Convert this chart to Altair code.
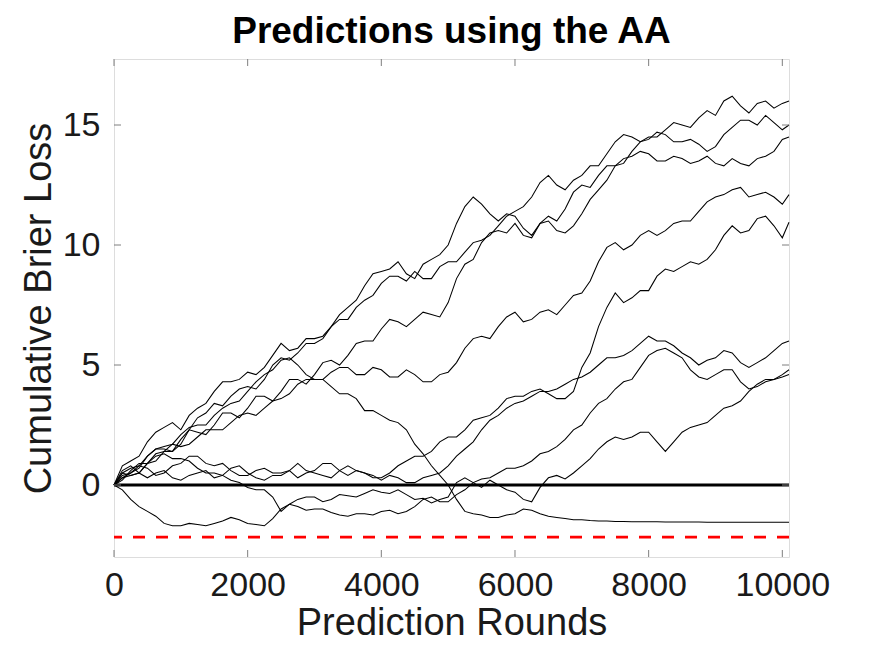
import altair as alt
import pandas as pd

# ---------------- data ----------------
rounds = [0, 125, 250, 375, 500, 625, 750, 875, 1000, 1125, 1250, 1375, 1500, 1625, 1750,
          1875, 2000, 2125, 2250, 2375, 2500, 2625, 2750, 2875, 3000, 3125, 3250, 3375, 3500,
          3625, 3750, 3875, 4000, 4125, 4250, 4375, 4500, 4625, 4750, 4875, 5000, 5125, 5250,
          5375, 5500, 5625, 5750, 5875, 6000, 6125, 6250, 6375, 6500, 6625, 6750, 6875, 7000,
          7125, 7250, 7375, 7500, 7625, 7750, 7875, 8000, 8125, 8250, 8375, 8500, 8625, 8750,
          8875, 9000, 9125, 9250, 9375, 9500, 9625, 9750, 9875, 10000, 10100]

run_a = [0, 0.5, 0.4, 0.5, 0.9, 1.3, 1.4, 1.4, 1.9, 2.3, 2.2, 2.1, 2.5, 3.0, 3.0, 2.8, 3.2,
         3.7, 3.7, 3.5, 3.9, 4.4, 4.4, 4.2, 4.6, 5.1, 5.2, 5.0, 5.4, 5.9, 6.0, 6.0, 6.5, 6.9,
         6.8, 6.6, 6.9, 7.2, 7.1, 7.0, 7.6, 8.6, 9.2, 9.4, 10.1, 10.5, 10.6, 10.5, 10.9, 10.4,
         10.3, 10.9, 11.2, 11.0, 11.5, 12.2, 12.5, 12.4, 12.9, 13.3, 13.3, 13.4, 13.9, 14.3,
         14.5, 14.5, 14.8, 15.1, 15.0, 14.9, 15.3, 15.6, 15.4, 16.0, 16.2, 15.8, 15.5, 15.9,
         16.0, 15.7, 15.9, 16.0]
run_b = [0, 0.4, 0.5, 0.7, 1.2, 1.5, 1.5, 1.4, 1.7, 2.3, 2.8, 3.0, 3.4, 3.3, 3.7, 4.0, 4.1,
         4.0, 4.4, 5.0, 5.3, 5.2, 5.5, 5.9, 5.9, 6.1, 6.6, 6.9, 6.9, 7.4, 7.7, 7.9, 8.4, 8.7,
         8.7, 8.5, 8.9, 8.6, 8.6, 9.1, 9.3, 9.3, 9.7, 10.1, 10.2, 10.4, 10.8, 11.2, 11.4, 11.6,
         12.0, 12.6, 12.9, 12.5, 12.3, 12.7, 12.9, 13.3, 13.3, 13.8, 14.3, 14.6, 14.5, 14.3,
         14.4, 14.7, 14.6, 14.3, 14.3, 14.4, 14.2, 13.9, 14.1, 14.6, 14.9, 15.2, 15.2, 15.0,
         15.4, 15.1, 14.8, 15.0]
run_c = [0, 0.8, 1.0, 1.2, 1.8, 2.2, 2.4, 2.6, 2.3, 2.9, 3.2, 3.4, 3.9, 4.3, 4.3, 4.4, 4.7,
         4.6, 4.9, 5.4, 5.9, 5.6, 5.7, 6.1, 6.1, 6.2, 6.6, 7.1, 7.4, 7.7, 8.3, 8.8, 8.9, 9.0,
         9.3, 8.8, 8.6, 9.2, 9.4, 9.6, 10.0, 10.9, 11.6, 12.0, 11.7, 11.3, 11.0, 11.3, 11.2,
         10.7, 10.4, 10.9, 11.0, 10.6, 10.5, 10.8, 11.3, 11.9, 12.3, 12.7, 13.3, 13.6, 13.7,
         13.9, 13.8, 13.5, 13.5, 13.7, 13.6, 13.4, 13.5, 13.7, 13.4, 13.3, 13.6, 13.4, 13.3,
         13.6, 13.7, 13.9, 14.4, 14.5]
run_d = [0, 0.2, 0.6, 0.9, 0.9, 1.0, 1.4, 1.7, 1.6, 1.7, 2.0, 2.3, 2.3, 2.3, 2.6, 2.9, 3.0,
         2.9, 3.2, 3.5, 3.6, 3.8, 4.2, 4.4, 4.4, 4.4, 4.7, 4.9, 4.9, 4.6, 4.6, 4.9, 4.8, 4.5,
         4.5, 4.8, 4.6, 4.3, 4.3, 4.6, 4.7, 5.1, 5.7, 6.1, 6.2, 6.1, 6.6, 7.0, 7.2, 6.8, 6.9,
         7.2, 7.3, 7.1, 7.5, 7.9, 8.0, 8.5, 9.3, 9.9, 10.1, 9.8, 10.0, 10.4, 10.6, 10.4, 10.6,
         10.9, 11.0, 11.0, 11.4, 11.8, 12.0, 12.1, 12.3, 12.4, 12.0, 12.1, 12.2, 12.0, 11.7,
         12.1]
run_e = [0, 0.3, 0.5, 0.8, 0.7, 0.4, 0.5, 0.8, 0.9, 1.2, 1.2, 0.9, 0.8, 0.9, 0.6, 0.4, 0.4,
         0.6, 0.7, 0.5, 0.5, 0.6, 0.3, 0.5, 0.6, 0.9, 0.9, 0.6, 0.4, 0.6, 0.5, 0.3, 0.3, 0.5,
         0.8, 1.0, 1.2, 1.2, 1.4, 1.8, 2.0, 2.0, 2.3, 2.7, 2.8, 2.9, 3.2, 3.6, 3.7, 3.7, 3.9,
         4.0, 3.8, 3.6, 3.6, 3.9, 4.9, 5.5, 6.6, 7.4, 8.0, 7.6, 7.8, 8.1, 8.1, 8.7, 9.0, 8.9,
         9.1, 9.3, 9.2, 9.4, 9.8, 10.4, 10.8, 10.5, 10.6, 11.1, 11.2, 10.8, 10.3, 10.95]
run_f = [0, 0.6, 0.8, 0.5, 0.3, 0.5, 0.6, 0.3, 0.2, 0.4, 0.5, 0.6, 0.3, 0.4, 0.7, 0.8, 0.5,
         0.3, 0.2, 0.4, 0.4, 0.6, 0.9, 0.6, 0.5, 0.4, 0.3, 0.6, 0.8, 0.6, 0.5, 0.4, 0.2, 0.4,
         0.3, 0.1, 0.1, 0.3, 0.4, 0.5, 0.8, 1.2, 1.5, 1.8, 2.3, 2.7, 2.9, 3.2, 3.4, 3.5, 3.7,
         3.9, 3.9, 4.0, 4.2, 4.4, 4.5, 4.7, 5.0, 5.3, 5.3, 5.4, 5.6, 5.9, 6.2, 6.0, 6.0, 5.8,
         5.5, 5.3, 5.0, 5.2, 5.3, 5.6, 5.5, 5.1, 4.9, 5.1, 5.3, 5.6, 5.9, 6.0]
run_g = [0, -0.2, -0.6, -0.9, -1.1, -1.3, -1.6, -1.7, -1.7, -1.6, -1.65, -1.7, -1.6, -1.5,
         -1.35, -1.45, -1.6, -1.65, -1.7, -1.4, -1.0, -0.8, -0.9, -1.05, -1.0, -1.0, -1.15,
         -1.25, -1.3, -1.2, -1.2, -1.25, -1.1, -1.05, -1.2, -1.1, -0.9, -0.6, -0.5, -0.7,
         -0.7, -0.4, -0.2, 0.1, 0.25, 0.3, 0.5, 0.7, 0.7, 0.8, 1.0, 1.3, 1.4, 1.6, 1.9, 2.3,
         2.5, 3.0, 3.4, 3.6, 4.0, 4.3, 4.4, 4.9, 5.4, 5.6, 5.7, 5.5, 5.3, 4.8, 4.5, 4.4, 4.6,
         4.8, 4.8, 4.3, 4.0, 4.1, 4.3, 4.4, 4.5, 4.6]
run_h = [0, 0.3, 0.4, 0.5, 0.9, 1.2, 1.3, 1.1, 1.1, 1.0, 0.7, 0.5, 0.5, 0.4, 0.2, 0.1, -0.1,
         -0.2, -0.2, -0.5, -1.1, -0.8, -0.6, -0.5, -0.5, -0.7, -0.6, -0.4, -0.45, -0.5,
         -0.35, -0.2, -0.3, -0.35, -0.2, -0.4, -0.6, -0.55, -0.75, -0.6, -0.5, 0.1, 0.3, 0.1,
         -0.1, 0.2, 0.0, -0.2, -0.3, -0.6, -0.7, -0.1, 0.3, 0.4, 0.25, 0.5, 0.8, 1.1, 1.5,
         1.8, 2.0, 1.9, 2.0, 2.2, 2.2, 1.8, 1.4, 1.8, 2.2, 2.4, 2.5, 2.6, 2.9, 3.2, 3.3, 3.5,
         3.9, 4.2, 4.4, 4.4, 4.6, 4.8]
run_i = [0, 0.5, 0.7, 0.8, 1.2, 1.5, 1.6, 1.7, 2.1, 2.4, 2.5, 2.5, 2.9, 3.2, 3.4, 3.5, 3.9,
         4.3, 4.6, 4.8, 5.2, 5.3, 5.0, 4.6, 4.4, 4.4, 4.1, 3.8, 3.8, 3.6, 3.1, 3.1, 2.9, 2.7,
         2.6, 2.3, 1.7, 1.3, 0.8, 0.4, 0.0, -0.6, -1.1, -1.2, -1.25, -1.35, -1.35, -1.25,
         -1.2, -1.0, -1.05, -1.2, -1.3, -1.35, -1.4, -1.45, -1.45, -1.48, -1.5, -1.5, -1.52,
         -1.52, -1.53, -1.53, -1.53, -1.53, -1.54, -1.54, -1.54, -1.54, -1.54, -1.55, -1.55,
         -1.55, -1.55, -1.55, -1.55, -1.55, -1.55, -1.55, -1.55, -1.55]

zero_level = [0]
bound_level = [-2.17]
x_ticks = [0, 2000, 4000, 6000, 8000, 10000]
y_ticks = [0, 5, 10, 15]

chart_title = "Predictions using the AA"
x_title = "Prediction Rounds"
y_title = "Cumulative Brier Loss"

# ---------------- build ----------------
series = {"a": run_a, "b": run_b, "c": run_c, "d": run_d, "e": run_e,
          "f": run_f, "g": run_g, "h": run_h, "i": run_i}
rows = []
for name, vals in series.items():
    for r, v in zip(rounds, vals):
        rows.append({"run": name, "round": r, "loss": v})
df = pd.DataFrame(rows)

W, H = 675, 498
FONT = "Liberation Sans"
AXC = "#7f7f7f"
TXT = "#1a1a1a"

xs = alt.Scale(domain=[0, 10100], nice=False, zero=False)
ys = alt.Scale(domain=[-3, 17.75], nice=False, zero=False)

x_axis = alt.Axis(values=x_ticks, title=x_title, format="d")
y_axis = alt.Axis(values=y_ticks, title=y_title, format="d")


def X():
    return alt.X("round:Q", scale=xs, axis=x_axis)


def Y():
    return alt.Y("loss:Q", scale=ys, axis=y_axis)


lines = alt.Chart(df).mark_line(color="black", strokeWidth=1.05).encode(
    x=X(), y=Y(), detail="run:N")

zero = alt.Chart(pd.DataFrame({"loss": zero_level})).mark_rule(
    color="black", strokeWidth=3).encode(y=Y())

bound = alt.Chart(pd.DataFrame({"loss": bound_level})).mark_rule(
    color="#ff0000", strokeWidth=2.6, strokeDash=[12, 11]).encode(y=Y())

xt = pd.DataFrame({"round": x_ticks})
yt = pd.DataFrame({"loss": y_ticks})
tick_b = alt.Chart(xt).mark_rule(color=AXC, strokeWidth=1).encode(
    x=X(), y=alt.value(H), y2=alt.value(H - 7))
tick_t = alt.Chart(xt).mark_rule(color=AXC, strokeWidth=1).encode(
    x=X(), y=alt.value(0), y2=alt.value(7))
tick_l = alt.Chart(yt).mark_rule(color=AXC, strokeWidth=1).encode(
    y=Y(), x=alt.value(0), x2=alt.value(7))
tick_r = alt.Chart(yt).mark_rule(color=AXC, strokeWidth=1).encode(
    y=Y(), x=alt.value(W), x2=alt.value(W - 7))

chart = alt.layer(bound, lines, zero, tick_b, tick_t, tick_l, tick_r).properties(
    width=W, height=H,
    autosize=alt.AutoSizeParams(type="none"),
    padding={"left": 106, "top": 51, "right": 75, "bottom": 89},
    title=alt.TitleParams(chart_title, font=FONT, fontSize=37, fontWeight="bold",
                          color="black", anchor="middle", frame="group", offset=8),
).configure_view(stroke=AXC, strokeWidth=1).configure(background="white").configure_axis(
    domain=False, ticks=False, grid=False,
    labelFont=FONT, labelFontSize=34, labelColor=TXT,
    labelFlush=False, labelOverlap=False,
    titleFont=FONT, titleFontSize=38, titleFontWeight="normal", titleColor=TXT,
).configure_axisX(
    labelPadding=11, titlePadding=2,
).configure_axisY(
    labelPadding=14, titlePadding=4,
)

chart.save("out.html", embed_options={"renderer": "svg", "actions": False})
